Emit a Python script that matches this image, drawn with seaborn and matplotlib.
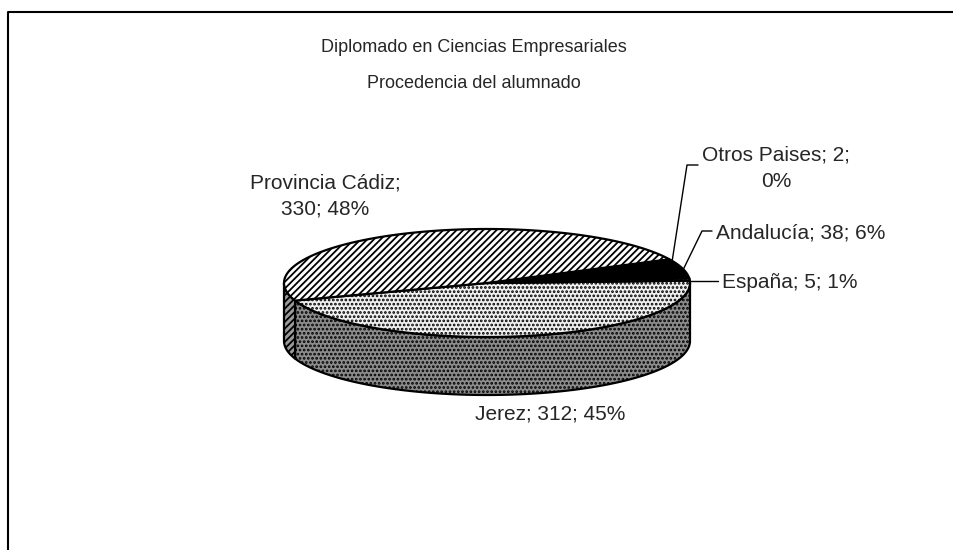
import matplotlib
matplotlib.use("Agg")
import matplotlib.pyplot as plt
import numpy as np
import seaborn as sns
from matplotlib.patches import Polygon

# data
categories = ["Jerez", "España", "Andalucía", "Otros Paises", "Provincia Cádiz"]
values = [312, 5, 38, 2, 330]
title_lines = ["Diplomado en Ciencias Empresariales", "Procedencia del alumnado"]

sns.set_theme(style="white")
plt.rcParams["font.family"] = ["Liberation Sans", "DejaVu Sans"]
plt.rcParams["hatch.linewidth"] = 1.3

fig = plt.figure(figsize=(9.54, 5.5), dpi=100)
ax = fig.add_axes([0, 0, 1, 1])
ax.set_xlim(0, 954)
ax.set_ylim(550, 0)
ax.axis("off")

# chart frame (partly cut at the right and bottom)
ax.plot([8, 8, 960], [560, 12, 12], color="black", lw=1.5)

# pie geometry (layout)
cx, cy = 487, 283
rx, ry = 203, 54
depth = 58
start = 199.0

top_style = {
    "Jerez": dict(fc="#f0f0f0", hatch="....", ec="black"),
    "España": dict(fc="#d0d0d0", hatch="....", ec="black"),
    "Andalucía": dict(fc="black", hatch=None, ec="black"),
    "Otros Paises": dict(fc="white", hatch="xxxx", ec="black"),
    "Provincia Cádiz": dict(fc="white", hatch="/////", ec="black"),
}
side_style = {
    "Jerez": dict(fc="#8c8c8c", hatch="....", ec="black"),
    "España": dict(fc="#777777", hatch="....", ec="black"),
    "Andalucía": dict(fc="black", hatch=None, ec="black"),
    "Otros Paises": dict(fc="#888888", hatch="xxxx", ec="black"),
    "Provincia Cádiz": dict(fc="#9a9a9a", hatch="/////", ec="black"),
}


def ell(theta_deg, dy=0):
    t = np.radians(theta_deg)
    return cx + rx * np.cos(t), cy - ry * np.sin(t) + dy


total = sum(values)
angles = []
a = start
for v in values:
    span = 360.0 * v / total
    angles.append((a, a + span))
    a += span

# side faces (front half only: 180..360 deg, modulo 360)
for name, (a1, a2) in zip(categories, angles):
    for off in (0, 360, -360):
        lo = max(a1 + off, 180)
        hi = min(a2 + off, 360)
        if hi <= lo:
            continue
        th = np.linspace(lo, hi, 80)
        xs, ys = ell(th)
        xb, yb = ell(th[::-1], depth)
        pts = np.column_stack([np.r_[xs, xb], np.r_[ys, yb]])
        st = side_style[name]
        ax.add_patch(Polygon(pts, closed=True, facecolor=st["fc"], edgecolor=st["ec"],
                             hatch=st["hatch"], lw=1.6, zorder=2))

# top faces
for name, (a1, a2) in zip(categories, angles):
    th = np.linspace(a1, a2, 120)
    xs, ys = ell(th)
    pts = np.column_stack([np.r_[cx, xs], np.r_[cy, ys]])
    st = top_style[name]
    ax.add_patch(Polygon(pts, closed=True, facecolor=st["fc"], edgecolor=st["ec"],
                         hatch=st["hatch"], lw=1.6, zorder=3))

# titles
tfs = 13
fs = 15
ax.text(474, 48, title_lines[0], ha="center", va="center", fontsize=tfs)
ax.text(474, 84, title_lines[1], ha="center", va="center", fontsize=tfs)


def label(name):
    v = values[categories.index(name)]
    return name, v, round(100 * v / total)


n, v, p = label("Provincia Cádiz")
ax.text(325, 196, f"{n};\n{v}; {p}%", ha="center", va="center", fontsize=fs, linespacing=1.5)
n, v, p = label("Otros Paises")
ax.text(776, 168, f"{n}; {v};\n{p}%", ha="center", va="center", fontsize=fs, linespacing=1.5)
n, v, p = label("Andalucía")
ax.text(716, 233, f"{n}; {v}; {p}%", ha="left", va="center", fontsize=fs)
n, v, p = label("España")
ax.text(722, 282, f"{n}; {v}; {p}%", ha="left", va="center", fontsize=fs)
n, v, p = label("Jerez")
ax.text(550, 414, f"{n}; {v}; {p}%", ha="center", va="center", fontsize=fs)

# leader lines
ax.plot([698, 687, 672], [165, 165, 262], color="black", lw=1)
ax.plot([712, 702, 683], [231, 231, 270], color="black", lw=1)
ax.plot([718, 690], [281, 281], color="black", lw=1)

fig.savefig("out.png", dpi=100, facecolor="white")
